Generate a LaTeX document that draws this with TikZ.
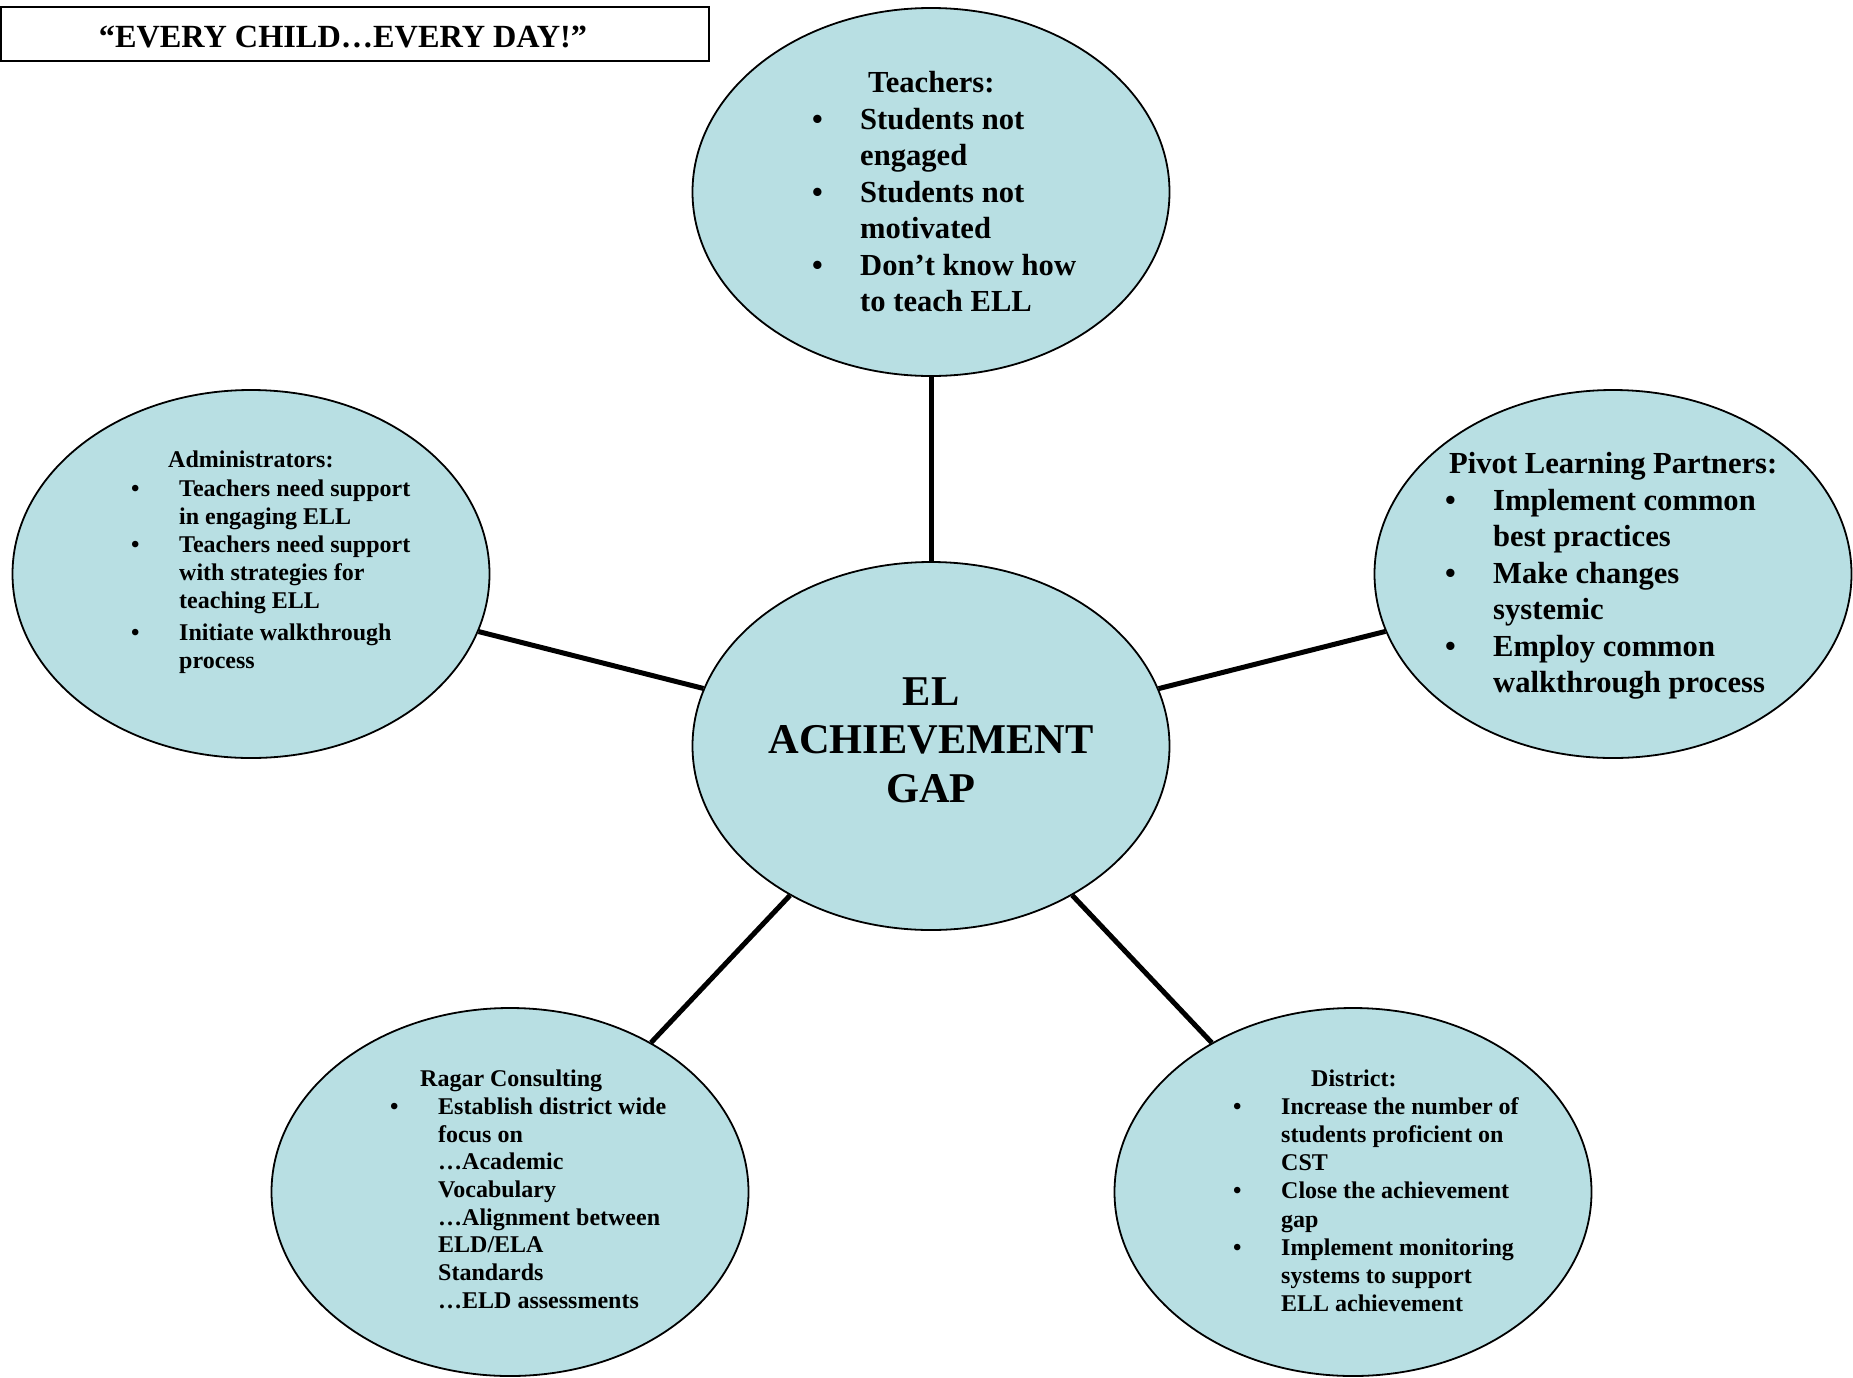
\documentclass[tikz,border=0pt]{standalone}
\usepackage{fontspec}
\setmainfont{Liberation Serif}
\usetikzlibrary{shapes.geometric}

\definecolor{bubblefill}{HTML}{B8DFE3}

\newlength{\bulind}
\setlength{\bulind}{48pt}
\newcommand{\bul}{\makebox[\bulind][l]{\textbullet}}
\newcommand{\cont}{\hspace*{\bulind}}

\tikzset{
  bubble/.style={ellipse, draw, line width=1.8pt, fill=bubblefill,
    minimum width=477pt, minimum height=368pt, inner sep=0pt},
  link/.style={line width=5pt},
  % base anchor sits on the last line
  biglist/.style={anchor=base west, align=left, inner sep=0pt,
    font=\fontsize{30.6}{36.5}\selectfont\bfseries},
  smalllist/.style={anchor=base west, align=left, inner sep=0pt,
    font=\fontsize{24}{28.2}\selectfont\bfseries},
}

\begin{document}
\begin{tikzpicture}[x=1pt,y=-1pt]
  \useasboundingbox (0,0) rectangle (1853,1377);

  % motto box
  \node (motto) [draw, line width=2.2pt, minimum width=708pt, minimum height=54pt,
    inner sep=0pt, font=\fontsize{32.3}{38}\selectfont\bfseries] at (355,34)
    {\raisebox{-2.6pt}[\height][\depth]{“EVERY CHILD…EVERY DAY!”}\hspace*{24pt}};

  % the five bubbles and the centre
  \node (gap) [bubble, align=center, font=\fontsize{42.4}{48.5}\selectfont\bfseries]
    at (931,746) {EL\\ACHIEVEMENT\\GAP\rule[-12pt]{0pt}{0pt}};
  \node (teach) [bubble] at (931,192) {};
  \node (admin) [bubble] at (251,574) {};
  \node (pivot) [bubble] at (1613,574) {};
  \node (ragar) [bubble] at (510,1192) {};
  \node (district) [bubble] at (1353,1192) {};

  \draw[link] (teach) -- (gap);
  \draw[link] (admin) -- (gap);
  \draw[link] (pivot) -- (gap);
  \draw[link] (ragar) -- (gap);
  \draw[link] (district) -- (gap);

  % texts in the bubbles
  \node (teachtxt) [biglist] at (812,311.5) {%
    \hspace*{56pt}Teachers:\\
    \bul Students not\\
    \cont engaged\\
    \bul Students not\\
    \cont motivated\\
    \bul Don’t know how\\
    \cont to teach ELL};

  \node (admintxt) [smalllist] at (131,668.3) {%
    \hspace*{37pt}Administrators:\\
    \bul Teachers need support\\
    \cont in engaging ELL\\
    \bul Teachers need support\\
    \cont with strategies for\\
    \cont teaching ELL\\[3pt]
    \bul Initiate walkthrough\\
    \cont process};

  \node (pivottxt) [biglist] at (1445,692.5) {%
    \hspace*{4pt}Pivot Learning Partners:\\
    \bul Implement common\\
    \cont best practices\\
    \bul Make changes\\
    \cont systemic\\
    \bul Employ common\\
    \cont walkthrough process};

  \node (ragartxt) [smalllist, font=\fontsize{24}{27.7}\selectfont\bfseries]
    at (390,1308.3) {%
    \hspace*{30pt}Ragar Consulting\\
    \bul Establish district wide\\
    \cont focus on\\
    \cont …Academic\\
    \cont Vocabulary\\
    \cont …Alignment between\\
    \cont ELD/ELA\\
    \cont Standards\\
    \cont …ELD assessments};

  \node (districttxt) [smalllist] at (1233,1311.7) {%
    \hspace*{78pt}District:\\
    \bul Increase the number of\\
    \cont students proficient on\\
    \cont CST\\
    \bul Close the achievement\\
    \cont gap\\
    \bul Implement monitoring\\
    \cont systems to support\\
    \cont ELL achievement};
\end{tikzpicture}
\end{document}
